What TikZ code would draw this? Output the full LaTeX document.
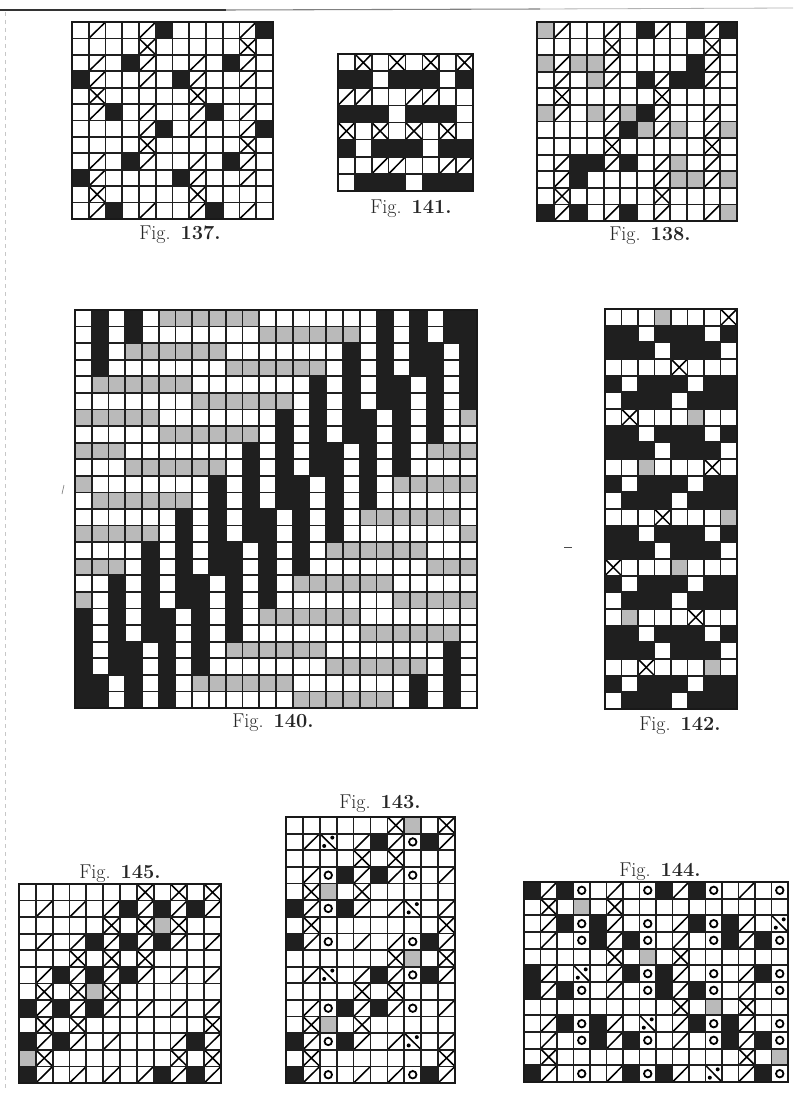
\documentclass[tikz,border=0pt]{standalone}
\newcount\cx \newcount\cy
\tikzset{
  gridline/.style={line width=1.3pt,black!88},
  border/.style={line width=1.8pt,black!90},
  mk/.style={line width=1.15pt,black},
  graycell/.style={fill=black!27},
  blackcell/.style={fill=black!88},
  caption/.style={anchor=base,inner sep=0pt,font=\fontsize{15}{17}\selectfont,text=black!85}
}
\expandafter\def\csname cell-\endcsname{}
\def\cellB{\fill[blackcell] (\the\cx,\the\cy) rectangle +(1,1);}
\def\cellG{\fill[graycell] (\the\cx,\the\cy) rectangle +(1,1);}
\def\cellS{\draw[mk,shift={(\the\cx,\the\cy)}] (0,1) -- (1,0);}
\def\cellX{\draw[mk,shift={(\the\cx,\the\cy)}] (0,1) -- (1,0) (0,0) -- (1,1);}
\def\cellO{\draw[line width=1.35pt,shift={(\the\cx,\the\cy)}] (0.5,0.5) circle[radius=2.8pt];}
\def\cellD{\draw[mk,shift={(\the\cx,\the\cy)}] (0,0) -- (1,1);\fill[shift={(\the\cx,\the\cy)}] (0.74,0.24) circle[radius=1.5pt] (0.26,0.74) circle[radius=1.5pt];}
\def\scanrow#1{\ifx#1;\else\csname cell#1\endcsname\global\advance\cx by 1 \expandafter\scanrow\fi}
% \wgrid{x0}{y0}{x1}{y1}{cols}{rows}{row,row,...}
\newcommand\wgrid[7]{%
  \pgfmathsetmacro\ux{(#3-#1)/#5*0.75}%
  \pgfmathsetmacro\uy{(#4-#2)/#6*0.75}%
  \begin{scope}[shift={(#1,#2)},x=\ux pt,y=-\uy pt]
    \global\cy=0
    \foreach \r in {#7}{%
      \global\cx=0
      \expandafter\scanrow\r;%
      \global\advance\cy by 1
    }
    \foreach \i in {1,...,#5}{\draw[gridline] (\i,0) -- (\i,#6);}
    \foreach \j in {1,...,#6}{\draw[gridline] (0,\j) -- (#5,\j);}
    \draw[border] (0,0) rectangle (#5,#6);
  \end{scope}
}
\newcommand\figlabel[4]{\node[caption] (#1) at (#2,#3) {Fig.\hspace{0.5em}\textbf{#4.}};}
\begin{document}
\begin{tikzpicture}[x=0.75pt,y=-0.75pt]
\useasboundingbox (0,0) rectangle (793,1095);
\fill[white] (0,0) rectangle (793,1095);
% scan edges
\draw[line width=1pt,black!80] (0,10) -- (226,10);
\draw[line width=0.8pt,black!50] (226,10) -- (540,9);
\draw[line width=0.6pt,black!30] (540,9) -- (793,8);
\draw[line width=0.4pt,black!22,dashed] (5,12) -- (5,1090);
\draw[line width=0.7pt,black!70] (564,547) -- (572,547);
\draw[line width=0.5pt,black!50] (64,485) -- (62,494);
% Fig 137
\wgrid{72}{22}{273}{219}{12}{12}{
-S--SB----SB,
----X-----X-,
-S-BS--S-BS-,
BS--S-BS--S-,
-X-----X----,
-SB-S--SB-S-,
----SB-S--SB,
----X-----X-,
-S-BS--S-BS-,
BS----BS--S-,
-X-----X----,
-SB-S--SB-S-}
\figlabel{c137}{180}{239}{137}
% Fig 141
\wgrid{338}{54}{473}{191}{8}{8}{
-X-X-X-X,
BB-BBB-B,
SS--SS--,
BBB-BBB-,
X-X-X-X-,
B-BBB-BB,
--SS--SS,
-BBB-BBB}
\figlabel{c141}{411}{214}{141}
% Fig 138
\wgrid{537}{22}{737}{221}{12}{12}{
GS--S-BS-BSB,
----X-----X-,
GSGGS----BS-,
-S-GS-BSBBS-,
-X-----X----,
GS-GSGBS--S-,
----SBGSG-SG,
----X-----X-,
-SBBSB-SG-S-,
-SB----SGGSG,
-X-----X----,
BSB-SB-S--SG}
\figlabel{c138}{650}{240}{138}
% Fig 140
\wgrid{75}{310}{477}{708}{24}{24}{
-B-B-GGGGGG-------B-B-BB,
-B-B-------GGGGGG-B-B-BB,
-B-GGGGGG-------B-B-BB-B,
-B-------GGGGGG-B-B-BB-B,
-GGGGGG-------B-B-BB-B-B,
-------GGGGGG-B-B-BB-B-B,
GGGGG-------B-B-BB-B-B-G,
-----GGGGGG-B-B-BB-B-B--,
GGG-------B-B-BB-B-B-GGG,
---GGGGGG-B-B-BB-B-B----,
G-------B-B-BB-B-B-GGGGG,
-GGGGGG-B-B-BB-B-B------,
------B-B-BB-B-B-GGGGGG-,
GGGGG-B-B-BB-B-B-------G,
----B-B-BB-B-B-GGGGGG---,
GGG-B-B-BB-B-B-------GGG,
--B-B-BB-B-B-GGGGGG-----,
G-B-B-BB-B-B-------GGGGG,
B-B-BB-B-B-GGGGGG-------,
B-B-BB-B-B-------GGGGGG-,
B-BB-B-B-GGGGGG-------B-,
B-BB-B-B-------GGGGGG-B-,
BB-B-B-GGGGGG-------B-B-,
BB-B-B-------GGGGGG-B-B-}
\figlabel{c140}{273}{727}{140}
% Fig 142
\wgrid{605}{309}{737}{709}{8}{24}{
---G---X,
BB-BBB-B,
BBB-BBB-,
----X---,
B-BBB-BB,
-BBB-BBB,
-X---G--,
BB-BBB-B,
BBB-BBB-,
--G---X-,
B-BBB-BB,
-BBB-BBB,
---X---G,
BB-BBB-B,
BBB-BBB-,
X---G---,
B-BBB-BB,
-BBB-BBB,
-G---X--,
BB-BBB-B,
BBB-BBB-,
--X---G-,
B-BBB-BB,
-BBB-BBB}
\figlabel{c142}{680}{730}{142}
% Fig 145
\wgrid{19}{884}{221}{1083}{12}{12}{
-------X-X-X,
-S-S-SBSBSBS,
-----X-XGX--,
-S-SBSBSBS-S,
---X-X-X----,
-SBSBSBS-S-S,
-X-XGX------,
BSBSBS-S-S-S,
-X-X-------X,
BSBS-S---SBS,
GX-------X-X,
BS-S-S-SBSBS}
\figlabel{c145}{120}{878}{145}
% Fig 143
\wgrid{286}{817}{455}{1083}{10}{16}{
------XG-X,
-SD-SBSOBS,
----X-X---,
-SOBSBSO-S,
-XG-X-----,
BSOBS-SD-S,
-X-------X,
BSO-S-SOBS,
------XG-X,
-SD-SBSOBS,
----X-X---,
-SOBSBSO-S,
-XG-X-----,
BSOBS-SD-S,
-X-------X,
BSO-S-SOBS}
\figlabel{c143}{380}{808}{143}
% Fig 144
\wgrid{524}{882}{788}{1082}{16}{12}{
BSBO-S-OBSBO-S-O,
-X-G-X----------,
-SBOBS-O-SBOBS-D,
-S-OBSBO-S-OBSBO,
-----X-G-X------,
BS-D-SBOBS-O-SBO,
BSBO-S-OBSBO-S-O,
---------X-G-X--,
-SBOBS-D-SBOBS-O,
-S-OBSBO-S-OBSBO,
-X-----------X-G,
BS-O-SBOBS-D-SBO}
\figlabel{c144}{660}{876}{144}
\end{tikzpicture}
\end{document}
